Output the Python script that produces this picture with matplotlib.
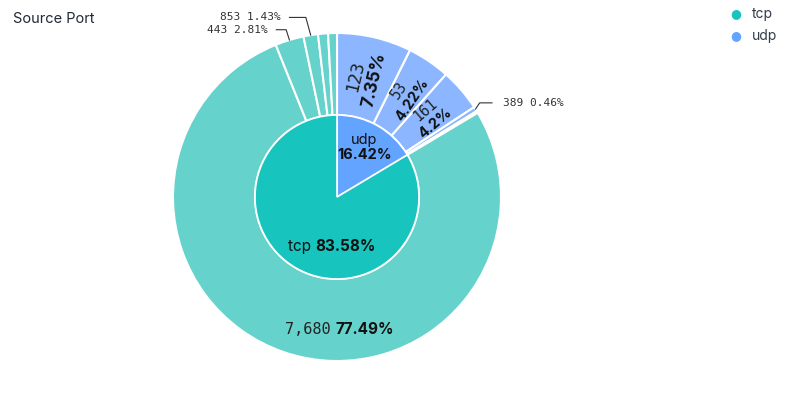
import numpy as np
import matplotlib
matplotlib.use('Agg')
from matplotlib import pyplot as plt

# inner ring: protocol share
protocols = ['udp', 'tcp']
protocol_pct = [16.42, 83.58]

# outer ring: source ports (clockwise from 12 o'clock)
ports = ['123', '53', '161', '389', '', '7,680', '443', '853', '', '']
port_pct = [7.35, 4.22, 4.2, 0.46, 0.19, 77.49, 2.81, 1.43, 0.98, 0.87]
port_proto = ['udp', 'udp', 'udp', 'udp', 'udp', 'tcp', 'tcp', 'tcp', 'tcp', 'tcp']

inner_colors = {'tcp': '#17c4be', 'udp': '#62a4ff'}
outer_colors = {'tcp': '#66d2cc', 'udp': '#8cb6ff'}

mono = 'DejaVu Sans Mono'
sans = 'Inter'

fig = plt.figure(figsize=(8.08, 3.96), dpi=100)
R_px = 164
cx, cy = 337, 197
lim = 1.04
side = 2 * lim * R_px
ax = fig.add_axes([(cx - side / 2) / 808, (396 - cy - side / 2) / 396, side / 808, side / 396])

ax.pie(port_pct, radius=1.0, startangle=90, counterclock=False,
       colors=[outer_colors[p] for p in port_proto],
       wedgeprops=dict(width=0.5, edgecolor='white', linewidth=1.5))
ax.pie(protocol_pct, radius=0.5, startangle=90, counterclock=False,
       colors=[inner_colors[p] for p in protocols],
       wedgeprops=dict(edgecolor='white', linewidth=1.2))
ax.set_xlim(-lim, lim)
ax.set_ylim(-lim, lim)
ax.set_aspect('equal')
ax.axis('off')


def mid_angle(values, i):
    # clockwise angle from the top, degrees
    total = sum(values)
    return (sum(values[:i]) + values[i] / 2) / total * 360


def polar(ang, r):
    a = np.radians(ang)
    return r * np.sin(a), r * np.cos(a)


# rotated labels inside the larger udp slices
for i in range(3):
    ang = mid_angle(port_pct, i)
    fs = 12.5 if i == 0 else 10.5
    x, y = polar(ang, 0.75)
    rot = 90 - ang
    nx, ny = polar(ang + 90, 0.058 if i == 0 else 0.05)
    ax.text(x - nx, y - ny, ports[i], rotation=rot, rotation_mode='anchor',
            ha='center', va='center', fontsize=fs, family=mono, color='#222222')
    ax.text(x + nx, y + ny, f'{port_pct[i]:g}%', rotation=rot, rotation_mode='anchor',
            ha='center', va='center', fontsize=fs, family=sans, weight='bold', color='#111111')

# big tcp slice label
x, y = polar(180, 0.81)
ax.text(x - 0.04, y, ports[5], ha='right', va='center', fontsize=11, family=mono, color='#222222')
ax.text(x - 0.01, y, f'{port_pct[5]:g}%', ha='left', va='center', fontsize=11, family=sans,
        weight='bold', color='#111111')

# outside labels with leader lines
def leader(i, text_x, elbow, ha):
    ang = mid_angle(port_pct, i)
    px, py = polar(ang, 1.0)
    ax.plot([px, elbow[0], text_x], [py, elbow[1], elbow[1]], color='#333333', lw=0.8,
            clip_on=False)
    ax.text(text_x + (0.07 if ha == 'left' else -0.05), elbow[1], f'{ports[i]} {port_pct[i]:g}%',
            ha=ha, va='center', fontsize=8, family=mono, color='#333333')


leader(3, 0.945, (0.87, 0.574), 'left')
leader(6, -0.37, (-0.31, 1.02), 'right')
leader(7, -0.29, (-0.19, 1.095), 'right')

# inner labels
x, y = polar(mid_angle(protocol_pct, 0), 0.32)
ax.text(x + 0.01, y + 0.07, 'udp', ha='center', va='center', fontsize=10.5, family=sans, color='#111111')
ax.text(x + 0.01, y - 0.025, f'{protocol_pct[0]:g}%', ha='center', va='center', fontsize=10.5,
        family=sans, weight='bold', color='#111111')
x, y = polar(180, 0.29)
ax.text(x - 0.13, y - 0.01, 'tcp ', ha='right', va='center', fontsize=11, family=sans, color='#111111')
ax.text(x - 0.13, y - 0.01, f'{protocol_pct[1]:g}%', ha='left', va='center', fontsize=11, family=sans,
        weight='bold', color='#111111')

fig.text(13 / 808, 1 - 19 / 396, 'Source Port', ha='left', va='center', fontsize=10.5,
         family=sans, color='#1f2937')

# legend
for k, p in enumerate(['tcp', 'udp']):
    yy = 1 - (14 + k * 22) / 396
    fig.text(736 / 808, yy, '\u25cf', ha='center', va='center', fontsize=9, color=inner_colors[p])
    fig.text(752 / 808, yy, p, ha='left', va='center', fontsize=10, family=sans, color='#333d4a')

fig.savefig('out.png', dpi=100)
